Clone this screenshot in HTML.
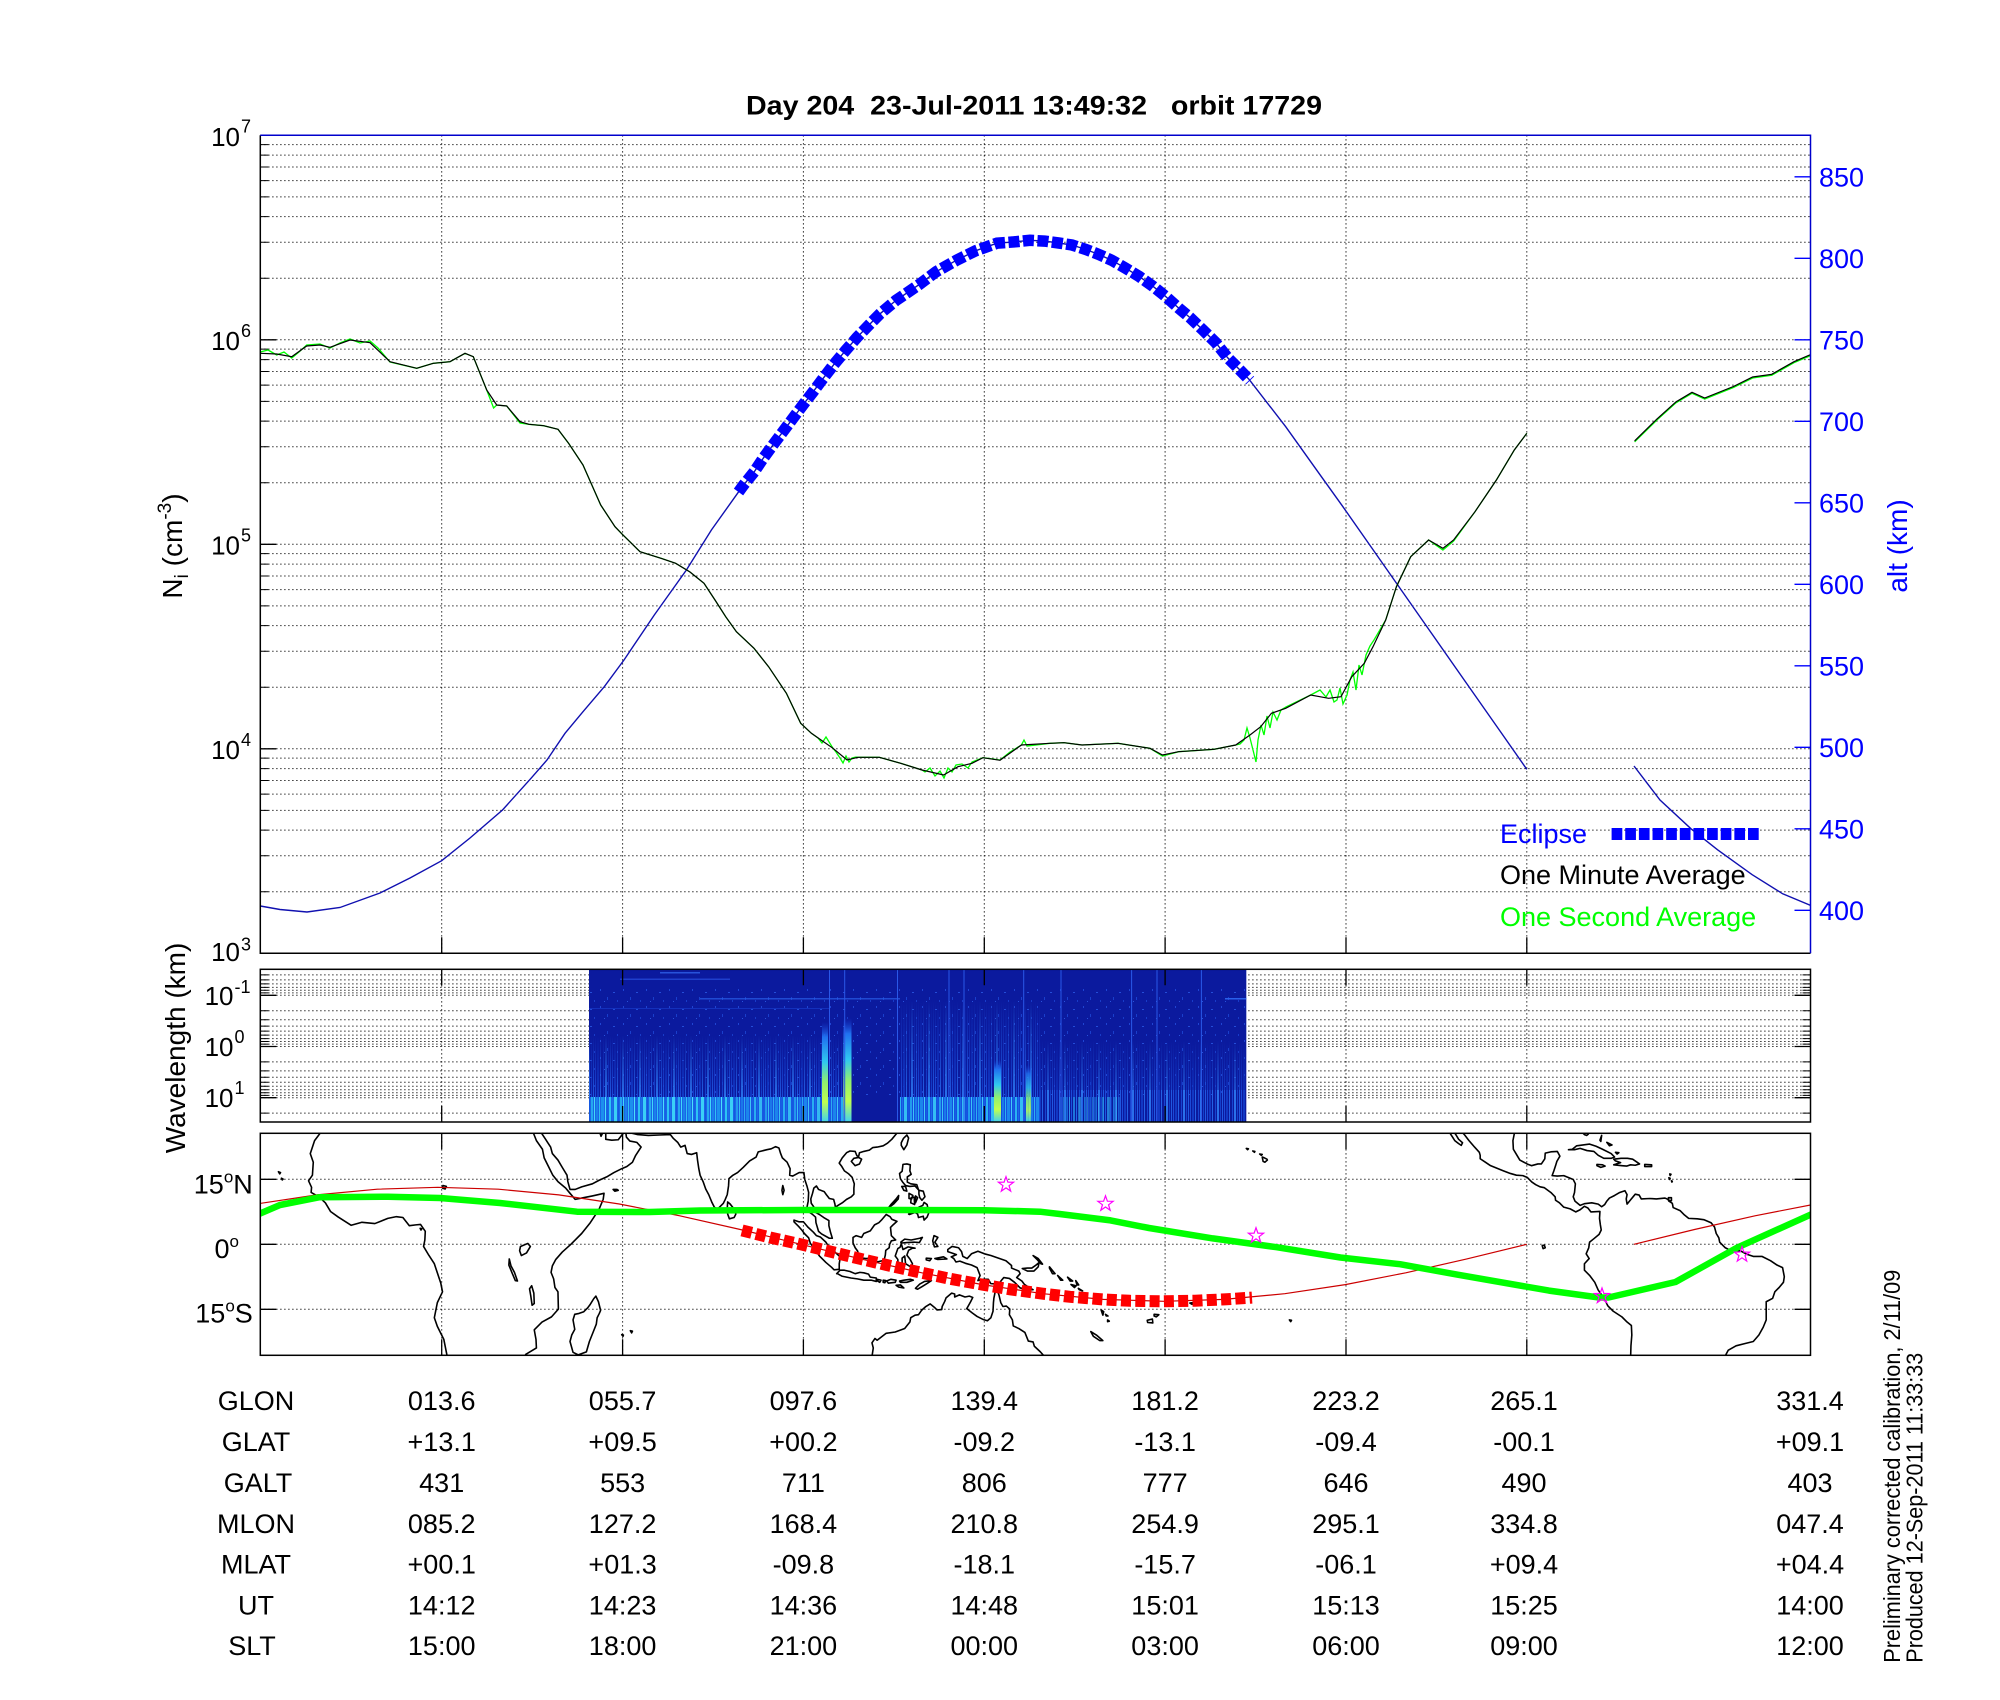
<!DOCTYPE html>
<html><head><meta charset="utf-8"><style>
html,body{margin:0;padding:0;background:#fff;}
svg{display:block;font-family:"Liberation Sans",Arial,sans-serif;}
</style></head><body>
<svg width="2000" height="1700" viewBox="0 0 2000 1700" xmlns="http://www.w3.org/2000/svg">
<defs>
<clipPath id="topclip"><rect x="260.3" y="135.3" width="1550.2" height="818"/></clipPath>
<clipPath id="specclip"><rect x="589" y="969.3" width="657.4" height="152.7"/></clipPath>
<clipPath id="mapclip"><rect x="260.3" y="1133.3" width="1550.2" height="222"/></clipPath>
<pattern id="pb" patternUnits="userSpaceOnUse" x="0" y="0" width="29" height="200">
<rect x="0" width="2" height="200" fill="#2cc4f4"/><rect x="3" width="1" height="200" fill="#1a70e8"/>
<rect x="5" width="3" height="200" fill="#3ad0f6"/><rect x="9" width="1" height="200" fill="#1458e0"/>
<rect x="11" width="2" height="200" fill="#24a8f0"/><rect x="14" width="1" height="200" fill="#40d8f8"/>
<rect x="16" width="2" height="200" fill="#1a80ec"/><rect x="19" width="1" height="200" fill="#30c0f4"/>
<rect x="21" width="3" height="200" fill="#1c90ee"/><rect x="25" width="1" height="200" fill="#48e0fa"/>
<rect x="27" width="1" height="200" fill="#1660e4"/>
</pattern>
<pattern id="pm" patternUnits="userSpaceOnUse" x="0" y="0" width="17" height="200">
<rect x="0" width="1" height="200" fill="#1c4ad8"/><rect x="2" width="2" height="200" fill="#1238c4"/>
<rect x="5" width="1" height="200" fill="#2460e4"/><rect x="8" width="1" height="200" fill="#1844d0"/>
<rect x="10" width="2" height="200" fill="#2a70ea"/><rect x="13" width="1" height="200" fill="#1440cc"/>
<rect x="15" width="1" height="200" fill="#2058e0"/>
</pattern>
<pattern id="spk" patternUnits="userSpaceOnUse" x="0" y="0" width="23" height="17">
<rect x="2" y="3" width="1" height="2" fill="#2550e0"/><rect x="9" y="11" width="1" height="3" fill="#1e48d8"/>
<rect x="15" y="6" width="2" height="1" fill="#2a5ae6"/><rect x="19" y="14" width="1" height="2" fill="#1c44d4"/>
<rect x="6" y="15" width="1" height="1" fill="#3060ea"/>
</pattern>
<linearGradient id="st" x1="0" y1="0" x2="0" y2="1">
<stop offset="0" stop-color="#1a40d8" stop-opacity="0"/><stop offset="0.15" stop-color="#2070f0"/>
<stop offset="0.4" stop-color="#30c8f0"/><stop offset="0.6" stop-color="#90f070"/>
<stop offset="0.8" stop-color="#c0ff50"/><stop offset="1" stop-color="#40d0f0"/>
</linearGradient>
<linearGradient id="fadeg" x1="0" y1="1" x2="0" y2="0">
<stop offset="0" stop-color="#fff"/><stop offset="1" stop-color="#000"/>
</linearGradient>
<mask id="fm" maskContentUnits="objectBoundingBox"><rect x="0" y="0" width="1" height="1" fill="url(#fadeg)"/></mask>
<path id="star" d="M0,-8 L1.88,-2.59 L7.61,-2.47 L3.04,0.99 L4.7,6.47 L0,3.2 L-4.7,6.47 L-3.04,0.99 L-7.61,-2.47 L-1.88,-2.59 Z" fill="none" stroke="#ff00ff" stroke-width="1.2"/>
</defs>

<!-- Title -->
<text x="1034" y="114.5" text-anchor="middle" font-size="27" font-weight="bold" textLength="576" lengthAdjust="spacingAndGlyphs" xml:space="preserve">Day 204  23-Jul-2011 13:49:32   orbit 17729</text>

<!-- ============ TOP PANEL ============ -->
<g fill="none" stroke="#000" stroke-width="1" stroke-dasharray="1.2 2.8">
<path d="M441.7 135.3V953.3M622.6 135.3V953.3M803.4 135.3V953.3M984.3 135.3V953.3M1165.1 135.3V953.3M1346 135.3V953.3M1526.8 135.3V953.3"/>
<path d="M260.3 144.66H1810.5M260.3 155.12H1810.5M260.3 166.98H1810.5M260.3 180.67H1810.5M260.3 196.86H1810.5M260.3 216.68H1810.5M260.3 242.23H1810.5M260.3 278.24H1810.5M260.3 339.8H1810.5M260.3 349.16H1810.5M260.3 359.62H1810.5M260.3 371.48H1810.5M260.3 385.17H1810.5M260.3 401.36H1810.5M260.3 421.18H1810.5M260.3 446.73H1810.5M260.3 482.74H1810.5M260.3 544.3H1810.5M260.3 553.66H1810.5M260.3 564.12H1810.5M260.3 575.98H1810.5M260.3 589.67H1810.5M260.3 605.86H1810.5M260.3 625.68H1810.5M260.3 651.23H1810.5M260.3 687.24H1810.5M260.3 748.8H1810.5M260.3 758.16H1810.5M260.3 768.62H1810.5M260.3 780.48H1810.5M260.3 794.17H1810.5M260.3 810.36H1810.5M260.3 830.18H1810.5M260.3 855.73H1810.5M260.3 891.74H1810.5"/>
</g>
<!-- left ticks -->
<path d="M260.3 339.8h16M260.3 544.3h16M260.3 748.8h16M260.3 135.3h16M260.3 953.3h16" stroke="#000" stroke-width="1.3"/>
<path d="M260.3 144.66h8M260.3 155.12h8M260.3 166.98h8M260.3 180.67h8M260.3 196.86h8M260.3 216.68h8M260.3 242.23h8M260.3 278.24h8M260.3 349.16h8M260.3 359.62h8M260.3 371.48h8M260.3 385.17h8M260.3 401.36h8M260.3 421.18h8M260.3 446.73h8M260.3 482.74h8M260.3 553.66h8M260.3 564.12h8M260.3 575.98h8M260.3 589.67h8M260.3 605.86h8M260.3 625.68h8M260.3 651.23h8M260.3 687.24h8M260.3 758.16h8M260.3 768.62h8M260.3 780.48h8M260.3 794.17h8M260.3 810.36h8M260.3 830.18h8M260.3 855.73h8M260.3 891.74h8" stroke="#000" stroke-width="1"/>
<!-- bottom x ticks -->
<path d="M441.7 953.3v-16M622.6 953.3v-16M803.4 953.3v-16M984.3 953.3v-16M1165.1 953.3v-16M1346 953.3v-16M1526.8 953.3v-16" stroke="#000" stroke-width="1.3"/>
<!-- right alt ticks -->
<path d="M1810.5 176.8h-16M1810.5 258.3h-16M1810.5 339.8h-16M1810.5 421.3h-16M1810.5 502.8h-16M1810.5 584.3h-16M1810.5 665.8h-16M1810.5 747.3h-16M1810.5 828.8h-16M1810.5 910.3h-16" stroke="#0000ff" stroke-width="1.3"/>

<g clip-path="url(#topclip)">
<!-- alt curve -->
<polyline fill="none" stroke="#1010b0" stroke-width="1.4" points="260.3,906 280,909.5 307,912 340,907.5 380,893 410,878 441.7,860.7 470,838 502.5,810 531,778.3 547,760 565,733.3 583,711.7 604.3,686.7 624,660 654.3,615 686.4,570 711.4,530 738,492.7 743.6,485 754.3,471.7 763.2,458.3 772.9,445 782.9,431.7 792.9,418.3 802.9,405 813.2,391.7 823.2,378.3 834,364.3 845.4,350.7 857.1,337.3 868.5,325.5 880,313.8 896,300.4 918.4,285.1 936.2,271.7 956.6,260.2 975.8,250.7 997,243.2 1014,241.9 1030,240.3 1044.6,241.1 1058.7,243 1072,245 1086,249.5 1098.9,254.5 1111.6,260.2 1125,267.9 1139,276.3 1153,286.3 1165.8,296.6 1178.6,308 1190,317.6 1202.8,329.9 1215.6,342.5 1227.7,357.8 1239.2,369.3 1248.7,378.9 1285.7,426.7 1321.4,476.7 1342.9,506.7 1371.4,547.4 1396.4,583.1 1428.6,629.1 1464.3,680.1 1500,731 1526.8,769.3"/>
<polyline fill="none" stroke="#1010b0" stroke-width="1.4" points="1634,766 1660,800 1690.9,828.7 1717.6,849.8 1752,874.6 1782.7,893.8 1812,906"/>
<!-- one second average (green) -->
<polyline fill="none" stroke="#00ff00" stroke-width="1.3" points="260.3,352 268,350 276.7,355 284,352 291.7,358 299,352 306.7,345 320,344 330,348 340,343 350,339 360,343 370,341 378,348 390,362 416.7,368.3 433.3,363.3 450,361.7 465,353.3 473.3,356.7 486.7,390 493.6,408 496.7,405 506.7,406 520,423 529,424.3 543.6,425.7 558,429.3 568.6,443.3 583,465 600.7,505 615,526.7 622,534 640,551.7 661,558.3 675.7,563.3 690,572 704,583.3 715,600 725.7,616.7 736.4,631.7 754,648.3 768.6,666.7 786.4,693.3 800.7,723.3 811.4,733.3 818,738 822,743 826,737 833,748.3 836,752 840,758 843,763 846,756 849,762 852,758 856,757 858,757.3 879.3,757.3 900.7,763.3 922,770 925,772 930,768 935,776 940,771 944,778 948,768 952,772 956,765 962,764 968,768 972,762 983,757.7 1000,760 1010,752 1021.4,745 1024,740 1027,746 1050,743.3 1064,742.7 1082,745 1118,743.3 1150,748.3 1162.5,756 1178.6,751.7 1214,749.3 1235.7,745 1240,744 1244,740 1247,728 1250,738 1253,750 1256,762 1258,740 1261,725 1264,735 1267,716 1270,728 1273,712 1277,720 1281,710 1286,707 1310.7,695 1320,690 1326,697 1330,690 1334,702 1337,700 1340,688 1343,704 1347,695 1350,680 1353,672 1356,690 1359,665 1362,675 1366,655 1370,646 1374,640 1385.7,620 1396.4,586.7 1410.7,556.7 1428.6,540 1442.9,550 1453.6,541 1475,511.7 1496.4,480 1514.3,450 1526.8,433.3"/>
<polyline fill="none" stroke="#00ff00" stroke-width="1.3" points="1634.6,441.9 1656.9,420 1676,402.8 1692,393.3 1704.7,399 1733.4,387.5 1752.6,378 1771.7,375.3 1794,362.7 1812,355"/>
<!-- one minute average (black) -->
<polyline fill="none" stroke="#000" stroke-width="1.2" points="260.3,353.3 276.7,354 291.7,356.7 306.7,346 320,345 330,347.3 350,340 370,342.7 390,361.7 416.7,368.3 433.3,363.3 450,361.7 465,353.3 473.3,356.7 486.7,390 496.7,405 506.7,406 520,421.7 529,424.3 543.6,425.7 558,429.3 568.6,443.3 583,465 600.7,505 615,526.7 622,534 640,551.7 661,558.3 675.7,563.3 690,572 704,583.3 715,600 725.7,616.7 736.4,631.7 754,648.3 768.6,666.7 786.4,693.3 800.7,723.3 811.4,733.3 833,748.3 847,760 858,757.3 879.3,757.3 900.7,763.3 922,770 943.6,775 958,766.7 972,763.3 983,757.7 1000,760.3 1021.4,745 1050,743.3 1064,742.7 1082,745 1118,743.3 1150,748.3 1162.5,755 1178.6,751.7 1214,749.3 1235.7,745 1250,735 1260.7,726.7 1271.4,713.3 1285.7,708.3 1310.7,695 1328.6,698.3 1341,696.7 1351.8,676.7 1364.3,663.3 1373,646.7 1385.7,620 1396.4,586.7 1410.7,556.7 1428.6,540 1442.9,548.3 1453.6,540 1475,511.7 1496.4,480 1514.3,450 1526.8,433.3"/>
<polyline fill="none" stroke="#000" stroke-width="1.2" points="1634.6,440.9 1656.9,419 1676,401.8 1692,392.3 1704.7,398 1733.4,386.5 1752.6,377 1771.7,374.3 1794,361.7 1812,354"/>
<!-- eclipse squares -->
<polyline fill="none" stroke="#0000ff" stroke-width="11.5" stroke-dasharray="11 3.5" points="738.5,492 743.6,485 754.3,471.7 763.2,458.3 772.9,445 782.9,431.7 792.9,418.3 802.9,405 813.2,391.7 823.2,378.3 834,364.3 845.4,350.7 857.1,337.3 868.5,325.5 880,313.8 896,300.4 918.4,285.1 936.2,271.7 956.6,260.2 975.8,250.7 997,243.2 1014,241.9 1030,240.3 1044.6,241.1 1058.7,243 1072,245 1086,249.5 1098.9,254.5 1111.6,260.2 1125,267.9 1139,276.3 1153,286.3 1165.8,296.6 1178.6,308 1190,317.6 1202.8,329.9 1215.6,342.5 1227.7,357.8 1239.2,369.3 1250,380.5"/>
</g>
<!-- spines -->
<path d="M260.3 135.3V953.3H1810.5" fill="none" stroke="#000" stroke-width="1.5"/>
<path d="M260.3 135.3H1810.5V953.3" fill="none" stroke="#0000cc" stroke-width="1.5"/>

<!-- legend -->
<text x="1500" y="843" font-size="27" fill="#0000ff">Eclipse</text>
<path d="M1611.6 834H1761.6" stroke="#0000ff" stroke-width="12" stroke-dasharray="10.7 2.94"/>
<text x="1500" y="884" font-size="27" fill="#000">One Minute Average</text>
<text x="1500" y="926" font-size="27" fill="#00ff00">One Second Average</text>

<!-- left axis labels -->
<g font-size="26" fill="#000">
<text x="240" y="146" text-anchor="end">10</text><text x="241" y="132.3" font-size="18">7</text>
<text x="240" y="350" text-anchor="end">10</text><text x="241" y="336.8" font-size="18">6</text>
<text x="240" y="554.5" text-anchor="end">10</text><text x="241" y="541.3" font-size="18">5</text>
<text x="240" y="759" text-anchor="end">10</text><text x="241" y="745.8" font-size="18">4</text>
<text x="240" y="961" text-anchor="end">10</text><text x="241" y="950.3" font-size="18">3</text>
</g>
<text transform="translate(182,546) rotate(-90)" text-anchor="middle" font-size="28">N<tspan font-size="19" dy="6">i</tspan><tspan dy="-6">&#160;(cm</tspan><tspan font-size="19" dy="-11">-3</tspan><tspan dy="11">)</tspan></text>
<!-- right axis labels -->
<g font-size="27" fill="#0000ff">
<text x="1819" y="186.3">850</text><text x="1819" y="267.8">800</text><text x="1819" y="349.3">750</text>
<text x="1819" y="430.8">700</text><text x="1819" y="512.3">650</text><text x="1819" y="593.8">600</text>
<text x="1819" y="675.3">550</text><text x="1819" y="756.8">500</text><text x="1819" y="838.3">450</text>
<text x="1819" y="919.8">400</text>
</g>
<text transform="translate(1907,546) rotate(-90)" text-anchor="middle" font-size="28" fill="#0000ff">alt (km)</text>

<!-- ============ SPECTROGRAM PANEL ============ -->
<g fill="none" stroke="#000" stroke-width="1" stroke-dasharray="1.2 2.8">
<path d="M441.7 969.3V1122M622.6 969.3V1122M803.4 969.3V1122M984.3 969.3V1122M1165.1 969.3V1122M1346 969.3V1122M1526.8 969.3V1122"/>
<path d="M260.3 974.9H1810.5M260.3 979.9H1810.5M260.3 983.9H1810.5M260.3 987.4H1810.5M260.3 990.3H1810.5M260.3 992.9H1810.5M260.3 995.3H1810.5M260.3 1010.7H1810.5M260.3 1019.7H1810.5M260.3 1026.1H1810.5M260.3 1031.1H1810.5M260.3 1035.1H1810.5M260.3 1038.6H1810.5M260.3 1041.5H1810.5M260.3 1044.1H1810.5M260.3 1046.5H1810.5M260.3 1061.9H1810.5M260.3 1070.9H1810.5M260.3 1077.3H1810.5M260.3 1082.3H1810.5M260.3 1086.3H1810.5M260.3 1089.8H1810.5M260.3 1092.7H1810.5M260.3 1095.4H1810.5M260.3 1097.7H1810.5M260.3 1113.1H1810.5"/>
</g>
<g clip-path="url(#specclip)">
<rect x="589" y="969.3" width="657.4" height="152.7" fill="#0b1a9e"/>
<rect x="589" y="985" width="657.4" height="110" fill="url(#spk)" opacity="0.8"/>
<rect x="660" y="972" width="40" height="1.5" fill="#3060e8" opacity=".8"/>
<rect x="620" y="978.5" width="110" height="1.5" fill="#2850e0" opacity=".7"/>
<rect x="700" y="998" width="200" height="1.5" fill="#2a60ea" opacity=".7"/>
<rect x="589" y="1008" width="240" height="1" fill="#1a40d0" opacity=".6"/>
<rect x="1225" y="998" width="22" height="1.5" fill="#2a60ea"/>
<rect x="589" y="1035" width="262" height="62" fill="url(#pm)" mask="url(#fm)"/>
<rect x="900" y="1000" width="140" height="97" fill="url(#pm)" mask="url(#fm)"/>
<rect x="1040" y="1040" width="206" height="57" fill="url(#pm)" mask="url(#fm)" opacity=".7"/>
<rect x="589" y="1097" width="147" height="25" fill="#1a66e6"/>
<rect x="589" y="1097" width="147" height="25" fill="url(#pb)"/>
<rect x="736" y="1097" width="115" height="25" fill="#1858e2"/>
<rect x="736" y="1097" width="115" height="25" fill="url(#pb)" opacity=".8"/>
<rect x="900" y="1097" width="140" height="25" fill="#1550e0"/>
<rect x="900" y="1097" width="140" height="25" fill="url(#pb)" opacity=".85"/>
<rect x="1040" y="1090" width="206" height="32" fill="url(#pm)"/>
<rect x="1060" y="1097" width="60" height="25" fill="url(#pb)" opacity=".45"/>
<rect x="822" y="1022" width="6" height="100" fill="url(#st)"/>
<rect x="843.5" y="1018" width="8" height="104" fill="url(#st)"/>
<rect x="994" y="1060" width="7" height="62" fill="url(#st)"/>
<rect x="1026" y="1065" width="5" height="57" fill="url(#st)" opacity=".8"/>
<path d="M829.5 969V1122M844.7 969V1122M897.5 969V1122M949 969V1122M964 969V1122M1023.7 969V1122M1061 969V1122M1131.6 969V1122M1157 969V1122M1201.4 969V1122" stroke="#2a58e8" stroke-width="1"/>
</g>
<rect x="260.3" y="969.3" width="1550.2" height="152.7" fill="none" stroke="#000" stroke-width="1.5"/>
<path d="M260.3 995.3h16M260.3 1046.5h16M260.3 1097.7h16M1810.5 995.3h-16M1810.5 1046.5h-16M1810.5 1097.7h-16M441.7 969.3v16M622.6 969.3v16M803.4 969.3v16M984.3 969.3v16M1165.1 969.3v16M1346 969.3v16M1526.8 969.3v16M441.7 1122v-16M622.6 1122v-16M803.4 1122v-16M984.3 1122v-16M1165.1 1122v-16M1346 1122v-16M1526.8 1122v-16" stroke="#000" stroke-width="1.3"/>
<path d="M260.3 974.9h8M260.3 979.9h8M260.3 983.9h8M260.3 987.4h8M260.3 990.3h8M260.3 992.9h8M260.3 1010.7h8M260.3 1019.7h8M260.3 1026.1h8M260.3 1031.1h8M260.3 1035.1h8M260.3 1038.6h8M260.3 1041.5h8M260.3 1044.1h8M260.3 1061.9h8M260.3 1070.9h8M260.3 1077.3h8M260.3 1082.3h8M260.3 1086.3h8M260.3 1089.8h8M260.3 1092.7h8M260.3 1095.4h8M260.3 1113.1h8M1810.5 974.9h-8M1810.5 979.9h-8M1810.5 983.9h-8M1810.5 987.4h-8M1810.5 990.3h-8M1810.5 992.9h-8M1810.5 1010.7h-8M1810.5 1019.7h-8M1810.5 1026.1h-8M1810.5 1031.1h-8M1810.5 1035.1h-8M1810.5 1038.6h-8M1810.5 1041.5h-8M1810.5 1044.1h-8M1810.5 1061.9h-8M1810.5 1070.9h-8M1810.5 1077.3h-8M1810.5 1082.3h-8M1810.5 1086.3h-8M1810.5 1089.8h-8M1810.5 1092.7h-8M1810.5 1095.4h-8M1810.5 1113.1h-8" stroke="#000" stroke-width="1"/>
<g font-size="26">
<text x="233.5" y="1005" text-anchor="end">10</text><text x="234.5" y="993" font-size="18">-1</text>
<text x="233.5" y="1056" text-anchor="end">10</text><text x="234.5" y="1043" font-size="18">0</text>
<text x="233.5" y="1107" text-anchor="end">10</text><text x="234.5" y="1094" font-size="18">1</text>
</g>
<text transform="translate(185,1048) rotate(-90)" text-anchor="middle" font-size="28">Wavelength (km)</text>

<!-- ============ MAP PANEL ============ -->
<g fill="none" stroke="#000" stroke-width="1" stroke-dasharray="1.2 2.8">
<path d="M441.7 1133.3V1355.3M622.6 1133.3V1355.3M803.4 1133.3V1355.3M984.3 1133.3V1355.3M1165.1 1133.3V1355.3M1346 1133.3V1355.3M1526.8 1133.3V1355.3"/>
<path d="M260.3 1179.3H1810.5M260.3 1244.3H1810.5M260.3 1309.3H1810.5"/>
</g>
<g clip-path="url(#mapclip)">
<g transform="translate(383.5,1244.3) scale(4.3075,-4.32)" fill="none" stroke="#000" stroke-width="0.37" stroke-linejoin="round">
<polyline points="-13,28 -14.5,26 -16,24 -17,21 -16.3,19 -16.5,16 -17.4,14.7 -16.7,13.2 -16.8,12 -15,11 -13.5,9.6 -12.3,7.6 -10.5,6.3 -7.5,4.4 -5,5.1 -2,4.8 1,6 3,6.4 4.5,6.2 6,4.3 7.5,4.5 8.6,4.6 9.7,3 9.6,1 9.3,-0.5 10.5,-2.5 11.8,-4.5 12.3,-6 13.3,-9 13.7,-11 12.5,-13.5 11.8,-17 12.5,-19 14,-22 14.6,-25 15,-27"/>
<polyline points="33.5,28 34.7,26 35.5,24 36.9,22 37.3,20 38.3,18 39.3,16 40.5,14.5 42.3,13 43.3,11.8 44.5,10.4 46,10.7 48.5,11.2 51.2,11.8 51,10.4 50,8 48,5 46,2.5 43.5,0 41.5,-1.8 40,-3.5 39.2,-5 38.9,-6.5 39.5,-8 39.8,-10 40.5,-11 40.6,-15 39,-16.8 36.8,-18 35,-19.8 35.4,-22 35.5,-24 33,-25.5 32.5,-27"/>
<polyline points="35,28 36.5,26 37.5,24.5 38.8,22.5 39.2,21 40.5,19.5 41.5,17.8 42.6,16 42.8,14.5 43.3,12.7 44.5,12.7 46,13.3 48.5,14 50,14.8 52,15.7 53.5,16.6 55.3,17.5 56.5,18 57.8,19 58.5,20.5 59.8,22.5 58.8,23.6 57.2,23.9 56.4,24.8 56.2,26.2 55.5,25.5 54.5,24.2 53,24.1 51.6,24.3 51.6,25.8 51,26 50.5,25 50,26.5 49,28"/>
<polyline points="48,30 50,29 51.5,27.8 54,26.7 56,27.2 57.3,25.8 59,25.4 61.5,25.2 64,25.3 66.6,25.4 67.3,24.5 68.3,23.6 69,22.5 70,22.9 70.5,21 71.5,20.8 72.7,21.2 72.9,19.5 73.2,17.5 73.5,16 74.2,14.5 74.8,12.8 75.5,11.5 76.2,9.8 76.8,8.6 77.5,8.1 78.2,8.8 78.9,9.5 79.3,10.3 79.8,11.5 80.1,13.5 80.2,15.2 81,15.9 82.2,16.6 83.5,17.8 85,19.3 86.5,20.2 87,21.4 88.2,21.7 89,21.9 90,22.1 91,22.6 91.8,22.3 92.2,21 92.6,20 93.7,19 94.4,17.5 94.3,16 95,15.8 96.5,16.6 97.6,16.6 97.8,15 98.3,13.5 98.7,12 98.6,10 98.3,8.5 98.3,7.8 99.5,7 100.3,6.3 100.4,5 101,3 101.7,2.4 103.5,1.4 104.2,1.4 103.8,2.7 103.4,4.3 103.4,5.5 102.2,6.2 101.2,6.9 100.3,7.4 100,8.5 99.3,9.5 99.2,10.5 99.6,11.8 99.9,13 100.5,13.5 101,12.7 102.3,12.2 102.8,11.5 103.5,10.6 104.5,10.4 104.8,9.3 104.9,8.6 105.5,9 106.5,9.6 107.5,10.4 108.6,11 109.2,11.6 109.2,13 109.3,14 108.8,15.5 108,16.3 107,17 106.4,18 105.8,18.8 106.5,20 107.5,21.2 108.3,21.6 109.5,21.5 109.9,20.5 110.3,20.3 110.5,21.2 111.5,21.5 112.8,21.8 113.6,22.4 114.6,22.5 116,22.8 117,23.4 118,24.3 119,25.5 120,27"/>
<polygon points="79.9,9.8 80.4,9.4 81.3,8.3 81.8,7 81.4,6.2 80.3,5.9 79.9,7 79.8,8.3"/>
<polygon points="108.6,19.2 109.5,18.2 110.5,18.6 111,19.7 110.3,20.1 109.2,19.9"/>
<polygon points="120.2,22.9 120.8,21.9 121.5,23 121.9,24.6 121.5,25.3 120.7,24.5 120.2,23.5"/>
<polygon points="92.7,13.6 93,12.5 92.7,11.5 92.5,12.5"/>
<polygon points="120.6,18.5 121.5,18.6 122.3,18.4 122.2,17 122.5,16.2 121.6,15.6 121.6,14.4 122.4,14 123.8,13.8 124.2,12.6 123.4,13.5 122.2,13.4 121.2,13.6 120.6,14.3 120,15.2 119.8,16.4 120.4,16.9"/>
<polygon points="120.3,13.4 121.2,13.4 121.5,12.3 120.8,12.5"/>
<polygon points="124.3,12.5 125.3,12.3 125.7,11 125,10.2 124.5,10.8 124.3,11.6"/>
<polygon points="122,11.8 122.9,11.3 122.6,10.5 122,10.6"/>
<polygon points="122.5,10.8 123.2,10.9 123.3,9.2 122.4,9.6"/>
<polygon points="123.5,11.2 124,10.8 123.5,9.6"/>
<polygon points="121.9,7 123,7.6 123.7,8.2 124.3,8.6 125.2,9 125.5,9.7 126.2,9.2 126.6,7.3 126.2,6.3 125.5,5.6 125.3,6.5 124.2,6.2 124,7 123.4,7.4 122.1,6.9"/>
<polygon points="117.2,8.4 118.5,9.4 119.5,10.5 119.6,11.3 119,10.5 117.8,9.2"/>
<polygon points="109,1.6 109.7,2 111,1.6 111.5,2.5 113,3.1 114,4.5 115,5 115.6,5.6 116.7,6.9 117.6,6.4 118,5.8 119.2,5.3 118.3,4.5 117.7,3.9 117.9,2 118.9,1 117.9,0.8 117.5,0 117.4,-0.8 116.6,-1.4 116.5,-2.5 116.2,-3.7 114.6,-4.1 113.6,-3.2 112,-3.3 111.4,-3.2 110.2,-2.9 110.1,-1.6 109.5,-0.8 109,0.3"/>
<polygon points="118.8,-2.7 119.4,-3.5 119.5,-5.5 120.4,-5.6 120.4,-3.2 121,-2.7 121.2,-4.5 122.5,-5.3 122.8,-4.5 122.2,-3.4 121.5,-2.5 121.9,-1.4 122.8,-0.9 123.4,-0.9 121.8,-0.6 120.6,-1.2 120.1,0.5 121,1.2 122.5,1 124.5,1.4 125.1,1.6 124.4,0.4 123.2,0.5 121.5,0.4 120.3,0.3 119.9,-0.7 119.4,-1"/>
<polygon points="127.8,2 128.7,1.6 128,0.5 128.7,-0.5 127.9,-0.6 127.5,0.8"/>
<polygon points="128,-3.3 130,-2.9 130.8,-3.4 128.6,-3.5"/>
<polygon points="126,-3.2 127.2,-3.3 126.8,-3.8 126,-3.6"/>
<polygon points="95.3,5.6 96.5,5.2 97.5,5.2 98.5,4 99.8,2.8 100.5,2 101.4,1.7 102.7,0.5 103.6,-0.9 104.4,-1.3 105,-2 105.9,-2.8 106,-3.3 105.8,-4.5 105.8,-5.8 104.6,-5.9 104,-5.3 102.7,-4.2 101.2,-2.7 100.6,-1.8 99.9,-0.8 99.1,0.2 98.7,1.5 97.7,2.5 97.2,3.2 96.4,4.1 95.3,5.2"/>
<polygon points="105.2,-6.8 106,-6 107,-6 108.3,-6.3 109.5,-6.8 110.6,-6.5 111.5,-6.6 112.6,-6.9 113,-7.6 114.4,-7.8 114.4,-8.6 113.2,-8.3 111.5,-8.3 110,-8 108.5,-7.8 106.5,-7.4 105.4,-6.8"/>
<polygon points="114.5,-8.1 115.5,-8.3 115.2,-8.8 114.5,-8.4"/>
<polygon points="116,-8.3 116.6,-8.4 116.4,-8.9 116,-8.8"/>
<polygon points="116.8,-8.5 117.8,-8.1 119,-8.3 118.8,-8.8 117.2,-9"/>
<polygon points="119.8,-8.5 120.8,-8.3 122.3,-8.1 123,-8.3 121.5,-8.8 120,-8.8"/>
<polygon points="119,-9.5 120,-9.4 120.8,-10.1 119.6,-9.9"/>
<polygon points="123.5,-10.2 124.5,-9.2 125.6,-8.6 127.2,-8.4 126.3,-9 125,-9.8 124,-10.4"/>
<polygon points="131,-1.2 132,-0.5 133.5,-0.8 134.2,-1.7 134.5,-2.8 135.5,-3.3 136.5,-2.2 138,-1.6 139.5,-2.2 141,-2.6 143,-3.3 144.5,-3.8 145.8,-4.9 145.8,-5.5 147.5,-6.2 147.8,-6.8 147,-7.7 148.2,-8.5 148.8,-9.3 150,-10.1 150.8,-10.5 149.5,-10.5 147.8,-10.1 146.5,-8.8 145.3,-7.9 144,-7.7 143.5,-8.3 142.8,-9.2 141,-9.1 140.4,-8.1 139,-8.1 138,-8.4 138.5,-7.2 137.8,-5.4 136.5,-4.8 135.1,-4.4 133.8,-3.9 132.9,-4.1 132.4,-3.3 131.8,-2.9 133,-2.4 132.2,-2.1 131,-1.7"/>
<polygon points="148.3,-5.6 149.5,-5.5 150.5,-5.5 151.5,-4.8 152.2,-4.2 152,-5.2 151,-6.2 149.5,-6.2"/>
<polygon points="150.8,-2.6 152,-3.3 153,-4.6 152.6,-4.5 151.8,-3.6"/>
<polygon points="154.6,-5.2 155.9,-6.8 155.3,-6.8 154.6,-5.5"/>
<polygon points="156.5,-7.2 157.7,-8.3 157.2,-8.3"/>
<polygon points="158.8,-7.6 160,-8.5 159.4,-8.5"/>
<polygon points="159.6,-9.3 160.8,-9.6 160.4,-10"/>
<polygon points="160.7,-8.4 161.4,-9.4 161,-9.4"/>
<polygon points="161.3,-10.2 162.3,-10.8 161.5,-10.5"/>
<polygon points="166.6,-15.2 167.2,-15.6 167,-16.4"/>
<polygon points="167.6,-16.2 168.2,-16.6 167.8,-16.6"/>
<polygon points="168.1,-17.5 168.5,-17.8 168.1,-17.9"/>
<polygon points="164.2,-20.2 165.5,-21 167,-22.3 166.3,-22.3 164.8,-21.3"/>
<polygon points="177.3,-17.6 178.5,-17.3 178.6,-18.2 177.4,-18.1"/>
<polygon points="178.9,-16.2 180,-16.3 179.4,-16.8 178.9,-16.6"/>
<polygon points="187.2,-13.6 187.8,-13.5 187.7,-13.9"/>
<polygon points="210.3,-17.5 210.8,-17.6 210.6,-17.9"/>
<polygon points="200.3,22.2 200.8,22.1 200.6,21.9"/>
<polygon points="201.8,21.6 202.3,21.5 202.2,21.3"/>
<polygon points="203.4,20.9 204,20.8 203.8,20.6"/>
<polygon points="204,20.2 204.3,20.1 205.1,19.7 205.2,19.5 204.6,19 204.2,19.2 204.1,19.7"/>
<polyline points="113.4,-27 113.4,-26 113.7,-24 113.4,-22.8 114.1,-21.8 114.6,-22.2 116.7,-20.6 118.8,-20.3 121,-19.5 122.2,-18 122.4,-17 123.4,-16.4 124.2,-16.3 124.9,-15.3 125.9,-14.4 126.9,-13.8 127.9,-14.6 128.5,-15.2 129.6,-15.1 129.7,-14.4 130.3,-13.2 130.6,-12.4 131.9,-11.3 132.6,-11.5 132.6,-12.2 133.7,-11.7 135,-12.2 136,-12 136.8,-12.3 136.3,-13.3 135.8,-14.2 135.4,-14.9 136.7,-15.9 137.8,-16.7 139.2,-17.4 140.2,-17.7 141,-17 141.5,-15.5 141.6,-13.5 141.7,-12.5 142,-11 142.5,-10.7 142.9,-11.8 143.3,-13.5 143.8,-14.4 144.6,-14.3 145.4,-15 145.3,-16.3 146,-17.5 146.2,-18.9 147.5,-19.5 148.9,-20.4 149.7,-22.4 150.8,-22.6 151.1,-23.6 152.5,-24.9 153.2,-25.7 153.2,-27"/>
<polygon points="49.3,-12 49.9,-13.3 50.4,-15.3 50.1,-16 49.6,-17 49.4,-18.5 48.6,-20.5 47.8,-22.5 47.1,-24.9 45.2,-25.6 44,-25 43.3,-22.5 43.7,-21 44.4,-19.7 44,-17.5 44.4,-16.2 45.4,-16 46.5,-15.6 47.4,-14.7 48,-13.9 48.8,-12.6"/>
<polygon points="53.3,12.7 54.2,12.7 54.5,12.5 53.7,12.3"/>
<polygon points="55.3,-20.9 55.7,-21 55.6,-21.3"/>
<polygon points="57.3,-20 57.8,-20.1 57.6,-20.5"/>
<polygon points="31.8,-0.5 33.5,0.2 34.1,-0.5 33.2,-2 32,-2.6 31.6,-1.5"/>
<polygon points="29.2,-3.4 29.6,-5 30.4,-6.5 31.1,-8.5 30.6,-8.4 29.8,-6.5 29.1,-4.8"/>
<polygon points="34.4,-9.6 34.9,-11.3 35,-13.7 34.5,-14.1 34.2,-12 33.9,-10.3"/>
<polygon points="13.8,13.6 14.6,13.4 14.3,12.8 13.7,13"/>
<polygon points="8.5,3.7 8.9,3.6 8.7,3.3"/>
<polygon points="-24.4,16.8 -23.9,16.6 -24.1,16.3"/>
<polygon points="-23.7,15.3 -23.3,15.1 -23.5,14.9"/>
<polygon points="245.5,28 246.5,27 247.4,26 248.2,24.8 248.7,24 249.6,23.3 250.2,22.9 250.5,23.5 249.6,24.3 249,25.3 248.3,26.3 247.5,27.5 246.8,28.8"/>
<polyline points="247.5,31 248,29 249,27.5 250,26.4 251,25.3 252,24 253.3,22.5 254.4,21.3 254.6,20.6 254.6,19.8 255.8,19 257,18.2 258.5,17.6 260,17 261.6,16.4 263,16 264.5,15.9 265.5,15.5 266.6,14.4 267.5,13.8 268.5,13.3 269.5,13.1 271,12 272,11 272.1,10.2 273,9.6 274,8.6 275.5,8.2 276.8,7.5 277.8,8 278.8,8.8 279.6,8.4 280.3,7.5 282.4,7.6 282.3,6 282.5,4.5 282.7,3.3 282.2,2.3 281,1.3 280,0.5 279.8,-0.8 279.2,-2.2 279.9,-3.3 278.8,-4.5 278.8,-6 280,-7.2 281.2,-8.8 282,-10.6 283.5,-12.7 284.2,-14.2 285.5,-15.5 287.5,-16.8 288.7,-18 289.7,-18.8 289.8,-21 289.6,-23.5 289.5,-27"/>
<polyline points="262.5,28 262.6,26 262.2,24 262.3,22 262.9,21 263.8,19.5 265.5,18.6 266.5,18.2 268,18.6 268.8,18.6 269.6,19.8 269.7,21.1 271,21.4 272.5,21.5 273.1,20.4 272.4,19.2 272.1,18.2 271.7,17 271.3,15.9 272.5,15.8 274,15.9 276.2,15 276.7,14 276.5,12 276.2,11 276.6,10 277.8,9 278.8,9.4 280.5,9.6 282,9.3 282.8,8.7 283.5,9.2 284,10 284.6,10.7 285.8,11.3 287,12 288.2,12.4 288.7,11.5 288.5,10.5 288.7,9.3 289.6,10.4 290.6,11.6 291.5,11.4 292,10.5 294,10.6 295.5,10.5 297.5,10.7 298.2,10.4 298.4,10 299.2,9.5 299.4,8.5 301,7.8 302,6.8 303,6 305,5.9 306.5,5.7 308.2,5 309,4 309.4,2.5 310,1.5 310.2,0.5 311.5,-0.8 312.5,-1.3 315,-1.5 316.5,-2.3 318,-2.8 320,-2.8 322,-3.8 323.5,-4.8 324.8,-5.4 325.2,-7.5 325,-8.8 324,-10 323,-11 322.5,-12.5 321,-13.3 321,-15.5 321,-17.5 320.3,-19.2 319.3,-21 318,-22.5 316,-23 314,-23.5 312.2,-24.5 311.5,-25.8 311.2,-27"/>
<polyline points="279.2,28 279.9,26.5 279.7,25.5 279.3,25.2 278.8,25.4 278.2,26 277.8,27 277.4,28.5"/>
<polygon points="275.1,21.9 276,22 277,22.8 278.5,23 280,23.2 281.5,22.7 283,22 285,21 285.8,20.2 285,19.9 283.3,19.9 282,20.6 281,21.5 279.4,21.7 277.8,22.2 276.5,21.9"/>
<polygon points="285.6,19.7 287.3,19.9 288.8,19.9 290,19.7 291.6,18.6 290.6,18.3 289.5,18.4 288.6,18.1 287.5,18.2 285.6,18.4 286.2,18.6 287.2,18.9 286,19.3"/>
<polygon points="281.7,18.5 283,18.4 283.6,18.1 282.6,17.8 281.7,18.2"/>
<polygon points="292.8,18.5 294.4,18.4 294.4,18 292.8,18"/>
<polygon points="282.4,24.1 282.8,25.2 282.6,23.8"/>
<polygon points="284,23.6 285.2,23 284.6,22.8"/>
<polygon points="286,21.3 286.8,21.2 286.4,20.9"/>
<polygon points="298.3,10.8 299,10.8 299,10.1 298.4,10.1"/>
<polygon points="298.4,15.4 298.7,15.3 298.6,15"/>
<polygon points="298.6,16.3 298.9,16.2 298.7,15.9"/>
<polygon points="299,14.7 299.2,14.6 299.1,14.4"/>
<polygon points="269,-0.3 269.5,-0.2 269.7,-0.8 269.2,-1"/>
</g>
<!-- satellite track -->
<polyline fill="none" stroke="#cc0000" stroke-width="1.2" points="256.3,1204 316.8,1194.9 377.3,1189.2 437.8,1187.3 498.3,1189.2 558.8,1194.9 619.3,1204 679.8,1215.8 740.3,1229.5 800.8,1244.3 861.3,1259.1 921.8,1272.8 982.3,1284.6 1042.8,1293.7 1103.3,1299.4 1163.8,1301.3 1224.3,1299.4 1284.8,1293.7 1345.3,1284.6 1405.8,1272.8 1466.3,1259.1 1526.8,1244.3"/>
<polyline fill="none" stroke="#cc0000" stroke-width="1.2" points="1634,1244.3 1694.5,1229.5 1755,1215.8 1815.5,1204"/>
<!-- dip equator -->
<polyline fill="none" stroke="#00ff00" stroke-width="6.5" stroke-linejoin="round" points="259,1214 280,1205 319,1197.3 388,1196.7 440,1198 500,1203 577,1211.7 650,1212 700,1210.5 800,1210 900,1210 984.3,1210.2 1040,1211.7 1059.6,1214 1110.6,1220.4 1149,1228 1212.8,1238.4 1276.6,1247.2 1340.4,1257.5 1400,1264.2 1457,1274.6 1549,1290.6 1599,1297.5 1608.6,1297.5 1675.5,1282 1736.8,1247.8 1812,1214"/>
<!-- eclipse on track -->
<polyline fill="none" stroke="#ff0000" stroke-width="12" stroke-dasharray="10 4.3" points="742,1230.4 770,1237.5 800.8,1244.3 830,1251.5 861.3,1259.1 890,1265.8 921.8,1272.8 950,1278.8 982.3,1284.6 1010,1289.3 1042.8,1293.7 1070,1296.8 1103.3,1299.4 1130,1300.8 1163.8,1301.3 1195,1300.7 1224.3,1299.4 1252,1297.6"/>
<use href="#star" x="1006" y="1184.7"/>
<use href="#star" x="1105.5" y="1203.8"/>
<use href="#star" x="1256" y="1235.7"/>
<use href="#star" x="1602" y="1296"/>
<use href="#star" x="1742" y="1254.6"/>
</g>
<rect x="260.3" y="1133.3" width="1550.2" height="222" fill="none" stroke="#000" stroke-width="1.5"/>
<path d="M441.7 1133.3v16M622.6 1133.3v16M803.4 1133.3v16M984.3 1133.3v16M1165.1 1133.3v16M1346 1133.3v16M1526.8 1133.3v16M441.7 1355.3v-16M622.6 1355.3v-16M803.4 1355.3v-16M984.3 1355.3v-16M1165.1 1355.3v-16M1346 1355.3v-16M1526.8 1355.3v-16M260.3 1179.3h16M260.3 1244.3h16M260.3 1309.3h16M1810.5 1179.3h-16M1810.5 1244.3h-16M1810.5 1309.3h-16" stroke="#000" stroke-width="1.3"/>
<g font-size="27">
<text x="252.8" y="1193.5" text-anchor="end">15<tspan font-size="17" dy="-11">o</tspan><tspan dy="11">N</tspan></text>
<text x="214.5" y="1258">0<tspan font-size="17" dy="-11">o</tspan></text>
<text x="252.8" y="1322.5" text-anchor="end">15<tspan font-size="17" dy="-11">o</tspan><tspan dy="11">S</tspan></text>
</g>

<!-- ============ TABLE ============ -->
<g font-size="27" text-anchor="middle">
<text x="256" y="1410">GLON</text><text x="256" y="1451">GLAT</text><text x="258" y="1492">GALT</text>
<text x="256" y="1533">MLON</text><text x="256" y="1573.5">MLAT</text><text x="256" y="1614.5">UT</text><text x="252" y="1655">SLT</text>

<text x="441.7" y="1410">013.6</text><text x="622.6" y="1410">055.7</text><text x="803.4" y="1410">097.6</text><text x="984.3" y="1410">139.4</text><text x="1165.1" y="1410">181.2</text><text x="1346" y="1410">223.2</text><text x="1524" y="1410">265.1</text><text x="1810" y="1410">331.4</text>

<text x="441.7" y="1451">+13.1</text><text x="622.6" y="1451">+09.5</text><text x="803.4" y="1451">+00.2</text><text x="984.3" y="1451">-09.2</text><text x="1165.1" y="1451">-13.1</text><text x="1346" y="1451">-09.4</text><text x="1524" y="1451">-00.1</text><text x="1810" y="1451">+09.1</text>

<text x="441.7" y="1492">431</text><text x="622.6" y="1492">553</text><text x="803.4" y="1492">711</text><text x="984.3" y="1492">806</text><text x="1165.1" y="1492">777</text><text x="1346" y="1492">646</text><text x="1524" y="1492">490</text><text x="1810" y="1492">403</text>

<text x="441.7" y="1533">085.2</text><text x="622.6" y="1533">127.2</text><text x="803.4" y="1533">168.4</text><text x="984.3" y="1533">210.8</text><text x="1165.1" y="1533">254.9</text><text x="1346" y="1533">295.1</text><text x="1524" y="1533">334.8</text><text x="1810" y="1533">047.4</text>

<text x="441.7" y="1573.5">+00.1</text><text x="622.6" y="1573.5">+01.3</text><text x="803.4" y="1573.5">-09.8</text><text x="984.3" y="1573.5">-18.1</text><text x="1165.1" y="1573.5">-15.7</text><text x="1346" y="1573.5">-06.1</text><text x="1524" y="1573.5">+09.4</text><text x="1810" y="1573.5">+04.4</text>

<text x="441.7" y="1614.5">14:12</text><text x="622.6" y="1614.5">14:23</text><text x="803.4" y="1614.5">14:36</text><text x="984.3" y="1614.5">14:48</text><text x="1165.1" y="1614.5">15:01</text><text x="1346" y="1614.5">15:13</text><text x="1524" y="1614.5">15:25</text><text x="1810" y="1614.5">14:00</text>

<text x="441.7" y="1655">15:00</text><text x="622.6" y="1655">18:00</text><text x="803.4" y="1655">21:00</text><text x="984.3" y="1655">00:00</text><text x="1165.1" y="1655">03:00</text><text x="1346" y="1655">06:00</text><text x="1524" y="1655">09:00</text><text x="1810" y="1655">12:00</text>
</g>

<!-- footnote -->
<text transform="translate(1900,1662.7) rotate(-90)" font-size="23" textLength="393" lengthAdjust="spacingAndGlyphs">Preliminary corrected calibration, 2/11/09</text>
<text transform="translate(1922.5,1662.7) rotate(-90)" font-size="23" textLength="310" lengthAdjust="spacingAndGlyphs">Produced 12-Sep-2011 11:33:33</text>
</svg>
</body></html>
